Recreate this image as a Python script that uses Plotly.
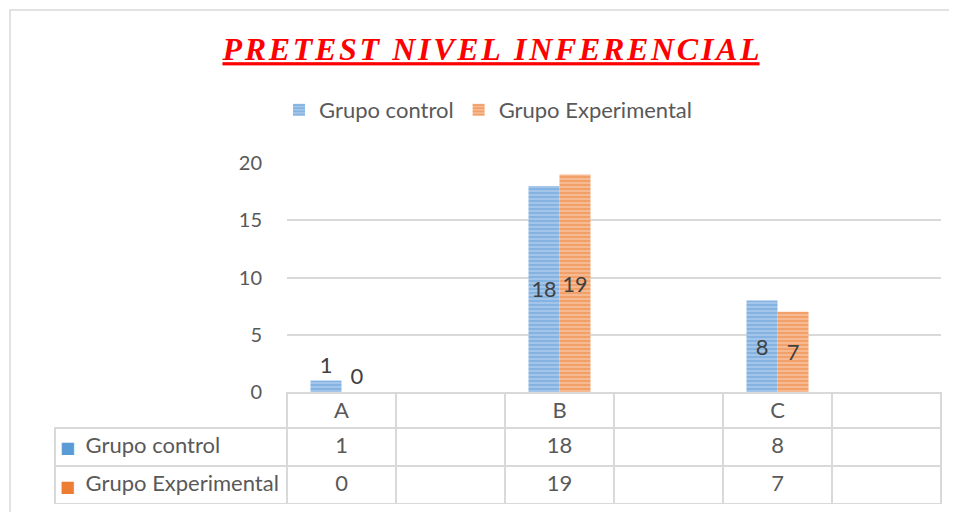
import plotly.graph_objects as go

categorias = ["A", "B", "C"]
grupo_control = [1, 18, 8]
grupo_experimental = [0, 19, 7]
series = ["Grupo control", "Grupo Experimental"]
ticks_y = [0, 5, 10, 15, 20]
titulo = "PRETEST NIVEL INFERENCIAL"

W, H = 957, 512
OFF = 8  # the page body margin shifts the figure by 8px


def fx(px):
    return (px - OFF) / W


def fy(py):
    return 1 - (py - OFF) / H


gris = "#d9d9d9"
texto = "#595959"
fuente = "Lato"

azul, azul_claro = "#5b9bd5", "#aecbec"
naranja, naranja_claro = "#ed7d31", "#f7c3a0"
colores = [azul, naranja]

# each category is followed by an empty column, as in the data table
slots = []
for i, c in enumerate(categorias):
    slots += [c, " " * (i + 1)]

slot_px = (941 - 287) / len(slots)
ancho = 31 / slot_px  # bar width in category units

fig = go.Figure()

for j, (nombre, valores, fg, bg) in enumerate([
    (series[0], grupo_control, azul, azul_claro),
    (series[1], grupo_experimental, naranja, naranja_claro),
]):
    fig.add_trace(go.Bar(
        name=nombre, x=categorias, y=valores,
        width=ancho, offset=-ancho + j * ancho,
        text=valores,
        textposition=["outside" if v < 3 else "inside" for v in valores],
        insidetextanchor="middle",
        textfont=dict(family=fuente, size=22, color="#404040"),
        marker=dict(color=bg, line=dict(width=0),
                    pattern=dict(shape="-", fgcolor=fg, bgcolor=bg,
                                 size=4, solidity=0.65)),
        cliponaxis=False,
    ))

# data table under the chart
nb = "\u00a0"
header = [""] + [s if s.strip() else "" for s in slots]
col0 = [nb * 4 + s.replace(" ", nb) for s in series]
cols = [col0]
for s in slots:
    if s in categorias:
        k = categorias.index(s)
        cols.append([grupo_control[k], grupo_experimental[k]])
    else:
        cols.append(["", ""])

transp = "rgba(0,0,0,0)"
fig.add_trace(go.Table(
    domain=dict(x=[fx(55), fx(941)], y=[fy(504), fy(393)]),
    columnwidth=[232] + [109] * len(slots),
    header=dict(values=header, height=35, align="center",
                fill_color=[transp] + ["white"] * len(slots),
                line=dict(color=[transp] + [gris] * len(slots), width=1.5),
                font=dict(family=fuente, size=22, color=texto)),
    cells=dict(values=cols, height=38,
               align=["left"] + ["center"] * len(slots),
               fill_color="white", line=dict(color=gris, width=1.5),
               font=dict(family=fuente, size=22, color=texto)),
))

# small colour keys in front of the series names of the table
keys = [dict(text="■", xref="paper", yref="paper", x=fx(67), y=fy(yy),
             showarrow=False, xanchor="center", yanchor="middle",
             font=dict(family="DejaVu Sans", size=16, color=c))
        for c, yy in zip(colores, [447, 486])]

fig.update_layout(
    width=W, height=H,
    margin=dict(l=0, r=0, t=0, b=0),
    paper_bgcolor="white", plot_bgcolor="white",
    barmode="group",
    title=dict(text="<u>" + "\u200a".join(titulo) + "</u>",
               x=fx(491), y=fy(49), xanchor="center", yanchor="middle",
               font=dict(family="Liberation Serif", size=32, color="#ff0000",
                         weight="bold", style="italic")),
    legend=dict(orientation="h", x=fx(488), y=fy(110),
                xanchor="center", yanchor="middle",
                font=dict(family=fuente, size=22, color=texto)),
    xaxis=dict(domain=[fx(287), fx(941)], type="category",
               categoryorder="array", categoryarray=slots,
               range=[-0.5, len(slots) - 0.5],
               showticklabels=False, showgrid=False,
               showline=True, linecolor=gris, linewidth=1.5),
    yaxis=dict(domain=[fy(392), fy(163)], range=[0, 20],
               tickvals=ticks_y, showgrid=True, gridcolor=gris, gridwidth=1.5,
               zeroline=False, showline=False, ticklabelstandoff=24,
               automargin=False,
               tickfont=dict(family=fuente, size=20, color=texto)),
    annotations=keys,
    shapes=[dict(type="rect", xref="paper", yref="paper",
                 x0=fx(10), x1=1.05, y0=-0.05, y1=fy(10),
                 line=dict(color=gris, width=1.5))],
)

fig.write_html("out.html")
